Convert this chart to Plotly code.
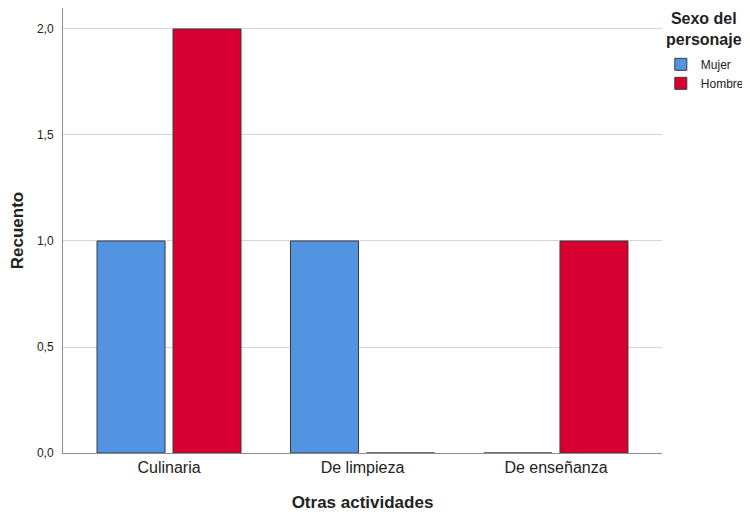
import plotly.graph_objects as go

categorias = ["Culinaria", "De limpieza", "De enseñanza"]
mujer = [1, 1, 0]
hombre = [2, 0, 1]
y_ticks = [0, 0.5, 1.0, 1.5, 2.0]
y_tick_text = ["0,0", "0,5", "1,0", "1,5", "2,0"]

AZUL = "#5294E2"
ROJO = "#D70030"
BORDE = "#3A3A3A"

fig = go.Figure()
fig.add_bar(x=categorias, y=mujer, name="Mujer",
            marker=dict(color=AZUL, line=dict(color=BORDE, width=1)))
fig.add_bar(x=categorias, y=hombre, name="Hombre",
            marker=dict(color=ROJO, line=dict(color=BORDE, width=1)))

# título de la leyenda como anotación, centrado sobre las entradas
fig.add_annotation(
    text="<b>Sexo del<br>personaje</b>", xref="paper", yref="paper",
    x=1.0701, y=0.953, xanchor="center", yanchor="middle", align="center",
    showarrow=False, font=dict(size=16, color="#222"),
)

# la página tiene 8 px de margen en el body: figura 742x504
fig.update_layout(
    width=742, height=504,
    margin=dict(l=55, r=88, t=0, b=59, autoexpand=False),
    paper_bgcolor="white", plot_bgcolor="white",
    font=dict(family="Liberation Sans, Arial, sans-serif", color="#222"),
    barmode="group", bargap=0.2145, bargroupgap=0.105,
    legend=dict(
        x=0.998, xanchor="left", y=0.906, yanchor="top",
        font=dict(size=12), itemwidth=30, tracegroupgap=0,
    ),
    xaxis=dict(
        range=[-0.548, 2.548], showline=True, linecolor="#8c8c8c", linewidth=1,
        tickfont=dict(size=16), ticks="",
        title=dict(text="<b>Otras actividades</b>", font=dict(size=17), standoff=21),
    ),
    yaxis=dict(
        range=[0, 2.099], tickvals=y_ticks, ticktext=y_tick_text,
        showline=True, linecolor="#8c8c8c", linewidth=1,
        showgrid=True, gridcolor="#d4d4d4", gridwidth=1, zeroline=False,
        tickfont=dict(size=12), ticks="", ticklabelstandoff=6,
        title=dict(text="<b>Recuento</b>", font=dict(size=17), standoff=9),
    ),
)

fig.write_html("out.html")
